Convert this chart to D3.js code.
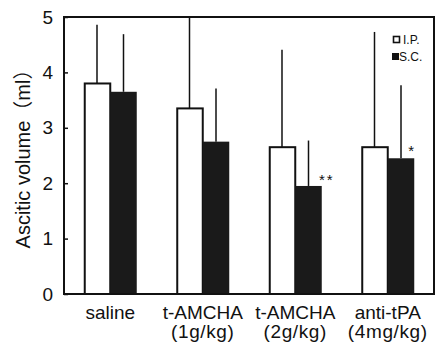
<!DOCTYPE html>
<html>
<head>
<meta charset="utf-8">
<script src="https://cdn.jsdelivr.net/npm/d3@7"></script>
<style>
  html, body { margin: 0; padding: 0; background: #fff; }
  svg { display: block; }
  text { font-family: "Liberation Sans", Arial, "Noto Sans CJK JP", sans-serif; fill: #111; }
</style>
</head>
<body>
<svg id="chart" width="438" height="343"></svg>
<script>
// ---- data ----
const categories = ["saline", "t-AMCHA", "t-AMCHA", "anti-tPA"];
const subLabels = ["", "(1g/kg)", "(2g/kg)", "(4mg/kg)"];
const seriesNames = ["I.P.", "S.C."];
const ipMean = [3.80, 3.35, 2.65, 2.65];
const ipSD   = [1.06, 1.65, 1.76, 2.08];
const scMean = [3.65, 2.75, 1.95, 2.45];
const scSD   = [1.04, 0.96, 0.82, 1.32];
const significance = ["", "", "**", "*"];
const yTicks = [0, 1, 2, 3, 4, 5];

// ---- layout ----
const svg = d3.select("#chart");
const plotL = 64, plotR = 434, plotT = 17, plotB = 294;
const ink = "#111";

const x0 = d3.scaleBand()
  .domain(d3.range(categories.length))
  .range([plotL, plotR])
  .paddingInner(0.427)
  .paddingOuter(0.2135);
const x1 = d3.scaleBand()
  .domain([0, 1])
  .range([0, x0.bandwidth()]);
const y = d3.scaleLinear().domain([0, 5]).range([plotB, plotT]);

const rows = categories.map((c, i) => ({
  i,
  vals: [
    { s: 0, m: ipMean[i], sd: ipSD[i] },
    { s: 1, m: scMean[i], sd: scSD[i] }
  ]
}));

// error bars (upward only), drawn before bars
const g = svg.append("g");
rows.forEach(r => {
  r.vals.forEach(v => {
    const cx = x0(r.i) + x1(v.s) + x1.bandwidth() / 2;
    g.append("line")
      .attr("x1", cx).attr("x2", cx)
      .attr("y1", y(v.m))
      .attr("y2", y(Math.min(5, v.m + v.sd)))
      .attr("stroke", ink).attr("stroke-width", 1.5);
  });
});

// bars
rows.forEach(r => {
  r.vals.forEach(v => {
    const bx = x0(r.i) + x1(v.s);
    const rect = g.append("rect")
      .attr("x", bx + (v.s === 0 ? 1 : 0))
      .attr("y", y(v.m))
      .attr("width", x1.bandwidth() - (v.s === 0 ? 1 : 0))
      .attr("height", y(0) - y(v.m));
    if (v.s === 0) rect.attr("fill", "#fff").attr("stroke", ink).attr("stroke-width", 2);
    else rect.attr("fill", "#1a1a1a");
  });
});

// significance stars
significance.forEach((s, i) => {
  if (!s) return;
  const barRight = x0(i) + x1(1) + x1.bandwidth();
  const cx = s.length > 1 ? barRight + 5 : barRight - 3;
  const cy = y(scMean[i]) - (s.length > 1 ? 10 : 11);
  svg.append("text")
    .attr("x", cx).attr("y", cy + 9)
    .attr("text-anchor", "middle")
    .attr("font-size", 15)
    .attr("letter-spacing", s.length > 1 ? 2 : 0)
    .text(s);
});

// frame
svg.append("rect")
  .attr("x", plotL).attr("y", plotT)
  .attr("width", plotR - plotL).attr("height", plotB - plotT)
  .attr("fill", "none").attr("stroke", ink).attr("stroke-width", 2);

// y axis (inward ticks)
const yAxis = d3.axisLeft(y).tickValues(yTicks).tickFormat(d3.format("d"))
  .tickSizeInner(-4).tickSizeOuter(0);
const ya = svg.append("g").attr("transform", `translate(${plotL},0)`).call(yAxis);
ya.select(".domain").remove();
ya.selectAll(".tick line").attr("stroke", ink).attr("stroke-width", 1.5);
ya.selectAll(".tick text").attr("font-size", 19).attr("fill", ink)
  .attr("font-family", "Liberation Sans, Arial, sans-serif")
  .attr("x", -11);

// y title
svg.append("text")
  .attr("transform", `translate(30,154) rotate(-90)`)
  .attr("text-anchor", "middle")
  .attr("font-size", 20)
  .text("Ascitic volume（ml）");

// x labels
categories.forEach((c, i) => {
  const cx = x0(i) + x0.bandwidth() / 2;
  svg.append("text").attr("x", cx).attr("y", 319)
    .attr("text-anchor", "middle").attr("font-size", 19).text(c);
  if (subLabels[i]) {
    svg.append("text").attr("x", cx).attr("y", 338)
      .attr("text-anchor", "middle").attr("font-size", 19)
      .attr("letter-spacing", 0.6)
      .text(subLabels[i]);
  }
});

// legend
const lg = svg.append("g");
lg.append("rect").attr("x", 393.5).attr("y", 36.5).attr("width", 6).attr("height", 6)
  .attr("fill", "#fff").attr("stroke", ink).attr("stroke-width", 1.6);
lg.append("text").attr("x", 403).attr("y", 43.5).attr("font-size", 12).text(seriesNames[0]);
lg.append("rect").attr("x", 392).attr("y", 53).attr("width", 7).attr("height", 7).attr("fill", ink);
lg.append("text").attr("x", 399).attr("y", 61).attr("font-size", 12).text(seriesNames[1]);
</script>
</body>
</html>
